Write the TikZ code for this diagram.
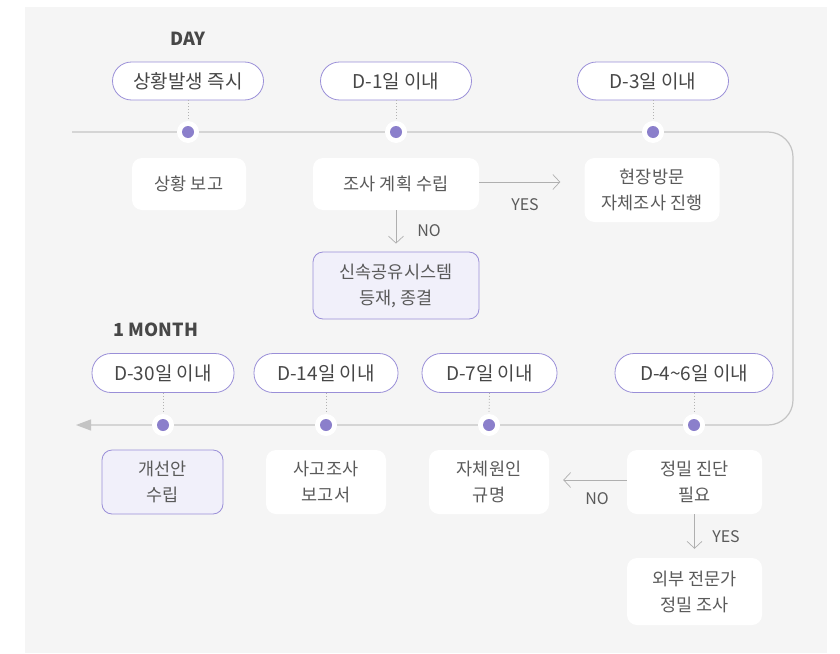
\documentclass[tikz,border=0pt]{standalone}
\usepackage{fontspec}
\setmainfont{Noto Sans CJK KR}
\usetikzlibrary{arrows.meta}
\definecolor{bg}{HTML}{F5F5F5}
\definecolor{pur}{HTML}{9A8FD8}
\definecolor{dotc}{HTML}{8B7FCB}
\definecolor{txt}{HTML}{5A5A5A}
\definecolor{txtd}{HTML}{474747}
\definecolor{lav}{HTML}{F1F0FA}
\definecolor{tline}{HTML}{C4C4C4}
\definecolor{arr}{HTML}{AFAFAF}
\begin{document}
\begin{tikzpicture}[x=1pt,y=-1pt,
  pill/.style={draw=pur, line width=0.8pt, fill=white, rounded corners=19pt, minimum height=38pt, text=txtd, font=\fontsize{19}{22}\selectfont, inner sep=0pt},
  box/.style={fill=white, rounded corners=10pt, text=txt, font=\fontsize{17.5}{26}\selectfont, align=center, inner sep=0pt},
  hbox/.style={box, draw=pur, line width=0.8pt, fill=lav},
  tlab/.style={font=\bfseries\fontsize{18}{21}\selectfont, text=txtd},
  lbl/.style={font=\fontsize{16}{18}\selectfont, text=txt},
  halo/.style={circle, fill=white, minimum size=22pt, inner sep=0pt},
  dotn/.style={circle, fill=dotc, minimum size=12pt, inner sep=0pt},
  conn/.style={draw=arr, line width=0.7pt, -{Straight Barb[length=7pt,width=15pt]}},
  dotline/.style={draw=gray!60, line width=0.8pt, dash pattern=on 1pt off 2pt}
]
\fill[white] (0,0) rectangle (840,653);
\useasboundingbox (0,0) rectangle (840,653);
\fill[bg] (25,7) rectangle (827,653);

% timeline
\coordinate (ts) at (72,132);
\coordinate (tc1) at (793,132);
\coordinate (tc2) at (793,425);
\coordinate (te) at (76,425);
\draw[tline, line width=1.2pt, rounded corners=25pt, -{Triangle[length=15pt,width=11pt]}] (ts) -- (tc1) -- (tc2) -- (te);

% labels
\node[tlab] (day) at (188,39) {DAY};
\node[tlab] (month) at (156,330) {1 MONTH};

% top pills
\node[pill, minimum width=151pt] (p1) at (188,81) {상황발생 즉시};
\node[pill, minimum width=151pt] (p2) at (396,81) {D-1일 이내};
\node[pill, minimum width=151pt] (p3) at (653,81) {D-3일 이내};

% bottom pills
\node[pill, minimum width=142pt, minimum height=39pt] (q1) at (163,373) {D-30일 이내};
\node[pill, minimum width=144pt, minimum height=39pt] (q2) at (326,373) {D-14일 이내};
\node[pill, minimum width=135pt, minimum height=39pt] (q3) at (489.5,373) {D-7일 이내};
\node[pill, minimum width=158pt, minimum height=39pt] (q4) at (694,373) {D-4\textasciitilde6일 이내};

% dots
\foreach \n/\x/\y in {1/188/132, 2/396/132, 3/653/132, 4/163/425, 5/326/425, 6/489/425, 7/694/425} {
  \node[halo] (h\n) at (\x,\y) {};
  \node[dotn] (d\n) at (\x,\y) {};
}
\draw[dotline] (p1.south) -- (h1.north);
\draw[dotline] (p2.south) -- (h2.north);
\draw[dotline] (p3.south) -- (h3.north);
\draw[dotline] (q1.south) -- (h4.north);
\draw[dotline] (q2.south) -- (h5.north);
\draw[dotline] (q3.south) -- (h6.north);
\draw[dotline] (q4.south) -- (h7.north);

% top boxes
\node[box, minimum width=114pt, minimum height=52pt] (b1) at (189,184) {상황 보고};
\node[box, minimum width=166pt, minimum height=52pt] (b2) at (396,184) {조사 계획 수립};
\node[box, minimum width=135pt, minimum height=64pt] (b3) at (652,190) {현장방문\\자체조사 진행};
\node[hbox, minimum width=166pt, minimum height=67pt] (b4) at (396,285.5) {신속공유시스템\\등재, 종결};

\draw[conn] ([yshift=2pt]b2.east) -- ([xshift=-24pt,yshift=2pt]b3.west |- b2.east);
\node[lbl] (yes1) at (525,205) {YES};
\draw[conn] (b2.south) -- ([yshift=8pt]b4.north);
\node[lbl] (no1) at (429,231) {NO};

% bottom boxes
\node[hbox, minimum width=121pt, minimum height=64pt] (b5) at (162.5,482) {개선안\\수립};
\node[box, minimum width=120pt, minimum height=64pt] (b6) at (326,482) {사고조사\\보고서};
\node[box, minimum width=120pt, minimum height=64pt] (b7) at (489,482) {자체원인\\규명};
\node[box, minimum width=135pt, minimum height=64pt] (b8) at (694.5,482) {정밀 진단\\필요};
\node[box, minimum width=135pt, minimum height=67pt] (b9) at (694.5,591.5) {외부 전문가\\정밀 조사};

\draw[conn] ([yshift=2pt]b8.west) -- ([xshift=14pt,yshift=2pt]b7.east |- b8.west);
\node[lbl] (no2) at (597,499) {NO};
\draw[conn] (b8.south) -- ([yshift=9pt]b9.north);
\node[lbl] (yes2) at (726,537) {YES};
\end{tikzpicture}
\end{document}
